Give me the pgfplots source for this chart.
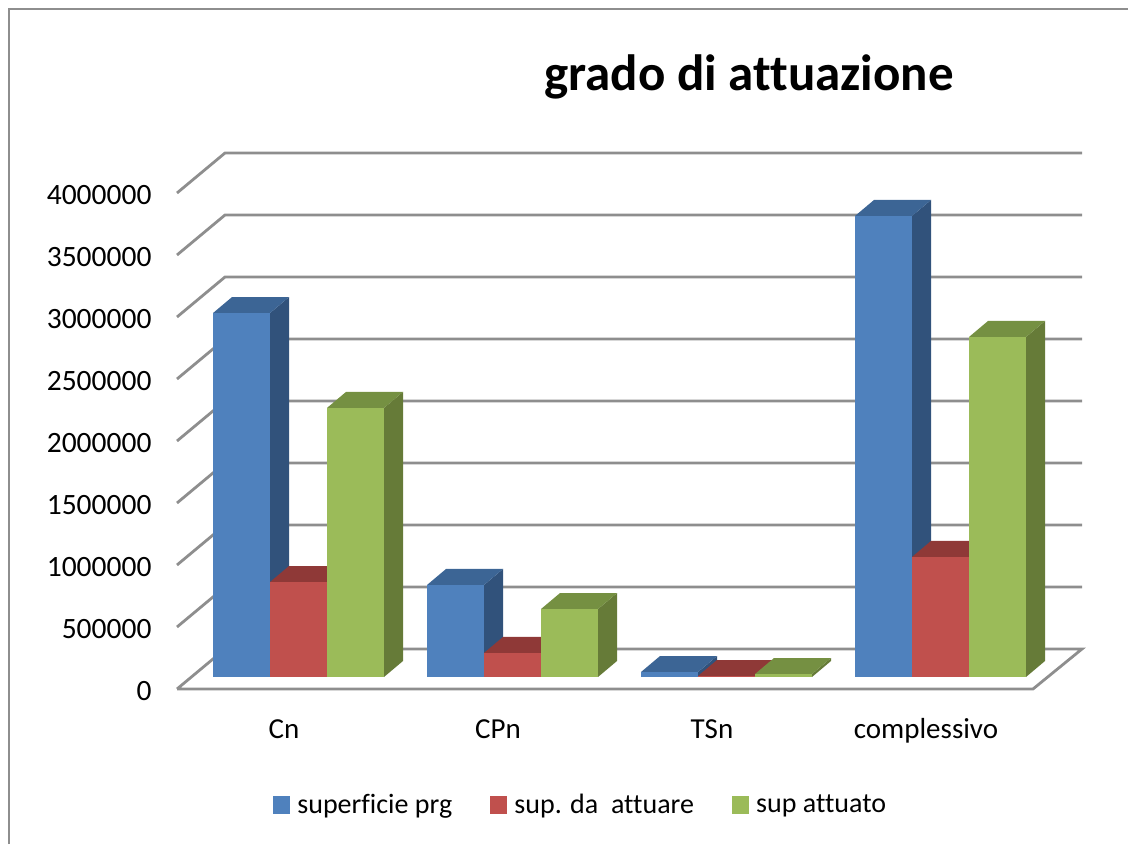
\documentclass[border=0pt]{standalone}
\usepackage{pgfplots}
\pgfplotsset{compat=1.18}
\usepackage{fontspec}
\setmainfont{Carlito}[Ligatures=NoCommon]
\definecolor{bluef}{HTML}{4F81BD}\definecolor{bluet}{HTML}{3C6595}\definecolor{blues}{HTML}{31527B}
\definecolor{redf}{HTML}{C0504D}\definecolor{redt}{HTML}{8F3937}\definecolor{reds}{HTML}{7D3230}
\definecolor{greenf}{HTML}{9BBB59}\definecolor{greent}{HTML}{759042}\definecolor{greens}{HTML}{667B38}
\definecolor{gridc}{HTML}{8E8E8E}
% #1 left edge of the bar (px), #2 value, #3 front, #4 top, #5 side
\newcommand\threedbar[5]{%
  \edef\xc{\the\numexpr#1+28\relax.5}%
  \edef\xr{\the\numexpr#1+57\relax}%
  \edef\xb{\the\numexpr#1+76\relax}%
  \edef\xl{\the\numexpr#1+19\relax}%
  \edef\vb{\the\numexpr#2+129032\relax}%
  \edef\zb{129032}%
  \addplot[fill=#5,draw=none] coordinates {(\xr,0)(\xr,#2)(\xb,\vb)(\xb,\zb)};
  \addplot[fill=#4,draw=none] coordinates {(#1,#2)(\xl,\vb)(\xb,\vb)(\xr,#2)};
  \addplot[ybar,bar width=57,bar shift=0pt,fill=#3,draw=none] coordinates {(\xc,#2)};
}
\begin{document}
\begin{tikzpicture}
\path[use as bounding box] (0,0) rectangle (1128pt,844pt);
\begin{axis}[
  at={(0,0)},anchor=south west,
  scale only axis,width=1128pt,height=844pt,
  xmin=0,xmax=1128,ymin=-1346774,ymax=5459677,
  clip=false,
  axis line style={draw=none},
  major tick length=0pt,
  every axis plot/.append style={forget plot,mark=none},
  scaled y ticks=false,
  ytick={0,500000,1000000,1500000,2000000,2500000,3000000,3500000,4000000},
  yticklabels={0,500000,1000000,1500000,2000000,2500000,3000000,3500000,4000000},
  yticklabel style={anchor=east,xshift=155pt,yshift=-14pt,font=\fontsize{29.5}{32}\selectfont},
  xtick={284,498,712,926},
  xticklabels={Cn,CPn,TSn,complessivo},
  xticklabel style={anchor=base,yshift=105pt,font=\fontsize{29}{32}\selectfont},
  title={\bfseries grado di attuazione},
  title style={at={(0.664,0.886)},anchor=base,font=\fontsize{51}{60}\selectfont},
  legend columns=-1,
  legend style={at={(0.242,0.0315)},anchor=south west,draw=none,fill=none,inner sep=0pt,
    font=\fontsize{28}{30}\selectfont,
    /tikz/every even column/.append style={column sep=36pt}},
  legend image code/.code={\fill[#1,draw=none] (0pt,-9pt) rectangle (17pt,9pt);\path (22pt,0pt);},
]
\addplot[draw=gridc,line width=2.8pt] coordinates {(9,-1346774)(9,5387097)(1128,5387097)};
\addplot[draw=gridc,line width=2.8pt] coordinates {(177,-96774)(1033,-96774)(1082,225806)(225,225806)(177,-96774)};
\addplot[draw=gridc,line width=2.8pt] coordinates {(177,403226)(225,725806)(1082,725806)};
\addplot[draw=gridc,line width=2.8pt] coordinates {(177,903226)(225,1225806)(1082,1225806)};
\addplot[draw=gridc,line width=2.8pt] coordinates {(177,1403226)(225,1725806)(1082,1725806)};
\addplot[draw=gridc,line width=2.8pt] coordinates {(177,1903226)(225,2225806)(1082,2225806)};
\addplot[draw=gridc,line width=2.8pt] coordinates {(177,2403226)(225,2725806)(1082,2725806)};
\addplot[draw=gridc,line width=2.8pt] coordinates {(177,2903226)(225,3225806)(1082,3225806)};
\addplot[draw=gridc,line width=2.8pt] coordinates {(177,3403226)(225,3725806)(1082,3725806)};
\addplot[draw=gridc,line width=2.8pt] coordinates {(177,3903226)(225,4225806)(1082,4225806)};
% superficie prg
\threedbar{213}{2935000}{bluef}{bluet}{blues}
\threedbar{427}{742000}{bluef}{bluet}{blues}
\threedbar{641}{40000}{bluef}{bluet}{blues}
\threedbar{855}{3718000}{bluef}{bluet}{blues}
% sup. da attuare
\threedbar{270}{766000}{redf}{redt}{reds}
\threedbar{484}{194000}{redf}{redt}{reds}
\threedbar{698}{8000}{redf}{redt}{reds}
\threedbar{912}{968000}{redf}{redt}{reds}
% sup attuato
\threedbar{327}{2170000}{greenf}{greent}{greens}
\threedbar{541}{548000}{greenf}{greent}{greens}
\threedbar{755}{24000}{greenf}{greent}{greens}
\threedbar{969}{2742000}{greenf}{greent}{greens}
\addlegendimage{fill=bluef}\addlegendentry{superficie prg}
\addlegendimage{fill=redf}\addlegendentry{sup. da\ \ attuare}
\addlegendimage{fill=greenf}\addlegendentry{sup attuato}
\end{axis}
\end{tikzpicture}
\end{document}
